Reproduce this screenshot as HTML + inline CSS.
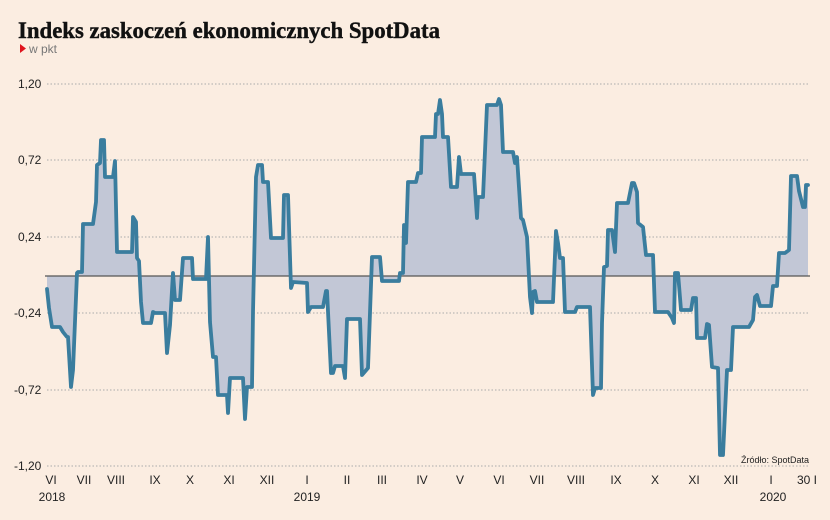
<!DOCTYPE html>
<html><head><meta charset="utf-8"><style>
html,body{margin:0;padding:0;background:#fbede1;}
svg{display:block}
.t{font-family:"Liberation Sans Narrow","Liberation Sans",sans-serif;font-size:12px;fill:#222}
</style></head><body>
<svg width="830" height="520" viewBox="0 0 830 520" xmlns="http://www.w3.org/2000/svg">
<rect width="830" height="520" fill="#fbede1"/>
<text x="18" y="38" font-family="Liberation Serif,serif" font-weight="bold" font-size="23.5" fill="#111" textLength="422" lengthAdjust="spacingAndGlyphs" stroke="#111" stroke-width="0.4">Indeks zaskoczeń ekonomicznych SpotData</text>
<polygon points="20,44 26,48.5 20,53" fill="#e0141e"/>
<text x="29" y="53" font-family="Liberation Sans,sans-serif" font-size="12" fill="#777">w pkt</text>
<g stroke="#aaa" stroke-width="1" stroke-dasharray="1.5,2">
<line x1="47" y1="84" x2="810" y2="84"/><line x1="47" y1="160" x2="810" y2="160"/><line x1="47" y1="237" x2="810" y2="237"/><line x1="47" y1="313" x2="810" y2="313"/><line x1="47" y1="390" x2="810" y2="390"/><line x1="47" y1="466" x2="810" y2="466"/>
</g>
<g class="t">
<text x="18" y="88">1,20</text><text x="18" y="164">0,72</text><text x="18" y="241">0,24</text><text x="14" y="317">-0,24</text><text x="14" y="394">-0,72</text><text x="14" y="470">-1,20</text>
</g>
<g class="t" text-anchor="middle">
<text x="51" y="484">VI</text><text x="84" y="484">VII</text><text x="116" y="484">VIII</text><text x="155" y="484">IX</text><text x="190" y="484">X</text><text x="229" y="484">XI</text><text x="267" y="484">XII</text><text x="307" y="484">I</text><text x="347" y="484">II</text><text x="382" y="484">III</text><text x="422" y="484">IV</text><text x="460" y="484">V</text><text x="499" y="484">VI</text><text x="537" y="484">VII</text><text x="576" y="484">VIII</text><text x="616" y="484">IX</text><text x="655" y="484">X</text><text x="694" y="484">XI</text><text x="731" y="484">XII</text><text x="771" y="484">I</text><text x="807" y="484">30 I</text>
<text x="52" y="501">2018</text><text x="307" y="501">2019</text><text x="773" y="501">2020</text>
</g>
<text x="809" y="463" text-anchor="end" font-family="Liberation Sans Narrow,Liberation Sans,sans-serif" font-size="9" fill="#222">Źródło: SpotData</text>
<defs><polyline id="d" points="47,289 49,308 52,327 60,327 63,332 67,337 68,337 71,387 73,370 77,273 78,272 82,272 83,224 93,224 96,202 97,165 100,163 101,140 104,140 105,177 113,177 115,161 117,252 132,252 133,217 136,222 137,258 139,261 141,302 143,323 151,323 153,312 155,313 165,313 167,353 170,325 173,273 175,300 180,300 183,258 192,258 193,279 206,279 208,237 210,322 213,357 216,357 218,395 227,395 228,413 230,378 243,378 245,419 247,387 252,387 253,312 256,177 258,165 262,165 263,182 268,182 271,238 283,238 284,195 288,195 291,288 293,282 307,283 308,312 311,307 323,307 326,291 327,291 331,373 333,373 335,366 343,366 345,378 347,319 360,319 362,375 368,368 372,257 380,257 382,281 399,281 400,273 403,273 404,225 406,243 408,182 416,182 418,173 421,173 422,137 435,137 436,114 438,114 440,100 442,114 443,137 448,137 451,187 457,187 459,157 461,174 474,174 477,218 478,197 483,197 487,105 497,105 499,99 501,105 503,152 513,152 515,163 517,157 521,218 523,220 527,237 530,297 532,313 533,292 535,291 537,302 553,302 556,231 558,243 560,258 563,258 565,312 575,312 577,307 590,307 593,395 595,388 601,388 602,323 604,267 607,266 608,230 612,230 615,252 617,203 628,203 632,183 634,183 637,192 638,223 643,227 646,255 653,255 655,312 668,312 672,318 674,323 675,273 678,273 681,310 691,310 693,298 696,298 697,338 705,338 707,324 709,325 712,367 718,368 720,455 723,455 727,370 731,370 733,327 749,327 753,320 755,297 757,295 760,306 771,306 773,286 777,286 779,253 785,253 789,250 791,176 797,176 799,191 803,207 805,207 806,185 808,185"/></defs>
<polygon fill="#c2c7d6" points="47,276 47,289 49,308 52,327 60,327 63,332 67,337 68,337 71,387 73,370 77,273 78,272 82,272 83,224 93,224 96,202 97,165 100,163 101,140 104,140 105,177 113,177 115,161 117,252 132,252 133,217 136,222 137,258 139,261 141,302 143,323 151,323 153,312 155,313 165,313 167,353 170,325 173,273 175,300 180,300 183,258 192,258 193,279 206,279 208,237 210,322 213,357 216,357 218,395 227,395 228,413 230,378 243,378 245,419 247,387 252,387 253,312 256,177 258,165 262,165 263,182 268,182 271,238 283,238 284,195 288,195 291,288 293,282 307,283 308,312 311,307 323,307 326,291 327,291 331,373 333,373 335,366 343,366 345,378 347,319 360,319 362,375 368,368 372,257 380,257 382,281 399,281 400,273 403,273 404,225 406,243 408,182 416,182 418,173 421,173 422,137 435,137 436,114 438,114 440,100 442,114 443,137 448,137 451,187 457,187 459,157 461,174 474,174 477,218 478,197 483,197 487,105 497,105 499,99 501,105 503,152 513,152 515,163 517,157 521,218 523,220 527,237 530,297 532,313 533,292 535,291 537,302 553,302 556,231 558,243 560,258 563,258 565,312 575,312 577,307 590,307 593,395 595,388 601,388 602,323 604,267 607,266 608,230 612,230 615,252 617,203 628,203 632,183 634,183 637,192 638,223 643,227 646,255 653,255 655,312 668,312 672,318 674,323 675,273 678,273 681,310 691,310 693,298 696,298 697,338 705,338 707,324 709,325 712,367 718,368 720,455 723,455 727,370 731,370 733,327 749,327 753,320 755,297 757,295 760,306 771,306 773,286 777,286 779,253 785,253 789,250 791,176 797,176 799,191 803,207 805,207 806,185 808,185 808,276"/>
<line x1="45" y1="276" x2="810" y2="276" stroke="#555" stroke-width="1.3"/>
<use href="#d" fill="none" stroke="#3a7d9e" stroke-width="3.8" stroke-linejoin="round" stroke-linecap="round"/>
</svg>
</body></html>
